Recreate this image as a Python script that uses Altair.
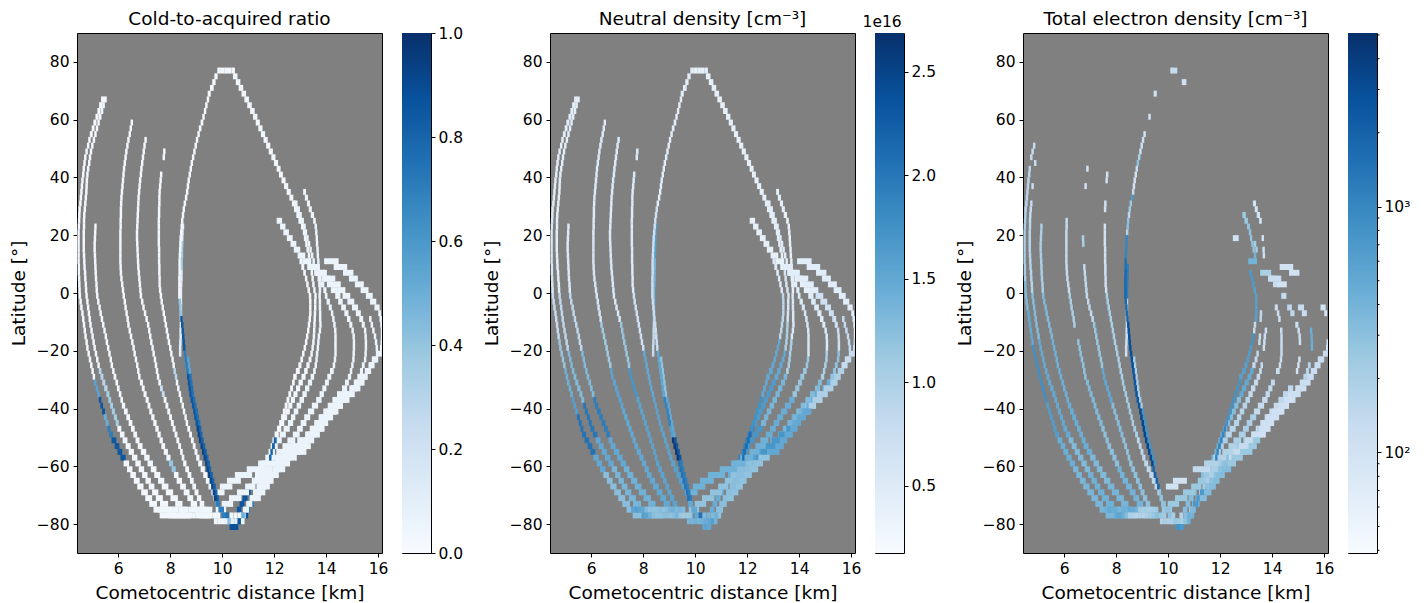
import altair as alt
import numpy as np
import pandas as pd

# ---- tracks: distance per row (km); rows go down 2 degrees at a time
A_R = [5.40,5.32,5.25,5.18,5.10,5.03,4.96,4.89,4.84,4.78,4.73,4.70,4.67,4.65,4.62,4.60,4.58,4.56,4.54,4.51,4.50,4.49,4.48,4.47,4.47,4.47,4.47,4.47,4.47,4.48,4.48,4.49,4.50,4.51,4.52,4.55,4.58,4.62,4.65,4.68,4.71,4.74,4.78,4.81,4.86,4.91,4.96,5.01,5.06,5.11,5.18,5.24,5.30,5.36,5.43,5.50,5.57,5.64,5.72,5.83,5.95,6.06,6.18,6.31,6.44,6.57,6.71,6.85,7.01,7.17,7.34,7.54,7.80]
B_R = [5.50,5.43,5.37,5.30,5.24,5.18,5.12,5.06,5.00,4.95,4.91,4.88,4.84,4.81,4.79,4.78,4.77,4.75,4.73,4.71,4.69,4.68,4.68,4.67,4.67,4.67,4.67,4.68,4.69,4.70,4.72,4.73,4.75,4.76,4.78,4.81,4.84,4.87,4.90,4.93,4.97,5.01,5.05,5.09,5.14,5.19,5.24,5.30,5.37,5.44,5.52,5.60,5.67,5.74,5.81,5.89,5.96,6.04,6.15,6.26,6.38,6.50,6.63,6.76,6.89,7.02,7.15,7.28,7.42,7.58,7.76,7.97,8.30]
C_R = [5.12,5.11,5.10,5.09,5.09,5.10,5.11,5.12,5.13,5.14,5.16,5.17,5.19,5.23,5.28,5.32,5.37,5.42,5.47,5.52,5.56,5.61,5.66,5.71,5.75,5.81,5.87,5.94,6.00,6.07,6.13,6.20,6.29,6.38,6.47,6.56,6.65,6.74,6.84,6.97,7.10,7.23,7.36,7.50,7.65,7.80,7.97,8.15,8.33,8.50,8.66]
D_R = [6.52,6.48,6.44,6.39,6.35,6.31,6.28,6.25,6.22,6.20,6.18,6.16,6.14,6.12,6.11,6.10,6.10,6.09,6.09,6.08,6.08,6.08,6.08,6.08,6.08,6.09,6.10,6.12,6.15,6.18,6.21,6.25,6.28,6.32,6.36,6.39,6.44,6.49,6.54,6.59,6.63,6.68,6.73,6.77,6.81,6.89,6.96,7.03,7.11,7.18,7.25,7.33,7.41,7.49,7.57,7.65,7.73,7.83,7.93,8.03,8.13,8.23,8.35,8.49,8.63,8.77,8.91,9.08,9.26]
E_R = [7.05,7.01,6.98,6.95,6.92,6.89,6.87,6.84,6.82,6.80,6.78,6.77,6.76,6.75,6.74,6.73,6.72,6.72,6.73,6.74,6.75,6.76,6.77,6.79,6.81,6.83,6.85,6.87,6.92,6.97,7.03,7.09,7.15,7.19,7.23,7.27,7.32,7.36,7.41,7.45,7.49,7.53,7.59,7.66,7.73,7.80,7.87,7.94,8.01,8.08,8.15,8.22,8.29,8.36,8.43,8.49,8.56,8.65,8.74,8.83,8.92,9.01,9.11,9.22,9.33,9.46]
F_R = [7.65,7.63,7.61,7.59,7.58,7.58,7.57,7.57,7.56,7.56,7.56,7.56,7.56,7.57,7.57,7.57,7.58,7.58,7.59,7.59,7.61,7.64,7.67,7.71,7.75,7.79,7.83,7.87,7.91,7.95,8.00,8.04,8.09,8.13,8.17,8.22,8.26,8.31,8.37,8.42,8.48,8.53,8.59,8.64,8.71,8.78,8.85,8.92,8.99,9.06,9.15,9.25,9.35,9.45,9.55,9.65,9.72,9.78,9.83,9.88]
F0_R = [7.77,7.75]
G_R = [9.76,9.68,9.60,9.50,9.45,9.39,9.34,9.28,9.22,9.15,9.09,9.03,8.98,8.93,8.88,8.83,8.79,8.75,8.71,8.68,8.65,8.61,8.56,8.52,8.49,8.46,8.44,8.42,8.40,8.39,8.38,8.37,8.36,8.36,8.36,8.35,8.35,8.35,8.35,8.37,8.39,8.41,8.43,8.46,8.48,8.50,8.52,8.54,8.57,8.60,8.63,8.66,8.69,8.72,8.75,8.78,8.83,8.88,8.93,8.97,9.02,9.06,9.10,9.15,9.21,9.27,9.33,9.39,9.44,9.50,9.56,9.62,9.68,9.74,9.82,9.96,10.09,10.24,10.45]
G2_R = [8.49,8.47,8.46,8.46,8.45,8.45,8.44,8.44,8.43,8.43,8.42,8.41,8.41,8.41,8.41,8.41,8.41,8.41,8.40,8.40,8.39,8.38,8.38]
G3_R = [8.69,8.72,8.75,8.78,8.81,8.84,8.87,8.92,8.97,9.02,9.06,9.11,9.15,9.19,9.24,9.30,9.36,9.42,9.48,9.53,9.59,9.65,9.71,9.77,9.83]
GR_R = [10.50,10.61,10.72,10.83,10.94,11.05,11.16,11.27,11.37,11.47,11.57,11.67,11.77,11.87,11.97,12.07,12.17,12.26,12.36,12.46,12.56,12.66,12.75,12.83,12.92,13.00,13.09,13.15,13.19,13.24,13.29,13.34,13.38,13.42,13.45,13.48,13.51,13.55,13.59,13.58,13.58,13.57,13.56,13.55,13.54,13.53,13.51,13.48,13.44,13.38,13.30,13.22,13.13,13.02,12.92,12.82,12.72,12.62,12.52,12.41,12.30,12.19,12.09,12.00,11.92,11.85,11.75,11.62,11.49,11.36,11.24,11.12,11.00,10.88,10.76,10.65]
H_R = [13.17,13.24,13.32,13.39,13.47,13.55,13.60,13.62,13.64,13.65,13.67,13.68,13.70,13.71,13.72,13.73,13.74,13.76,13.75,13.76,13.76,13.77,13.77,13.78,13.76,13.72,13.70,13.68,13.65,13.63,13.60,13.55,13.47,13.38,13.27,13.17,13.06,12.95,12.84,12.73,12.63,12.48,12.33,12.18,12.05,11.96,11.88,11.75,11.60,11.48,11.30,11.08,10.80,10.50,10.20,9.95]
I_R = [12.20,12.33,12.46,12.60,12.74,12.88,13.05,13.25,13.47,13.75,14.00,14.15,14.30,14.45,14.55,14.67,14.78,14.87,14.95,15.02,15.06,15.07,15.07,15.06,15.05,15.01,14.96,14.90,14.80,14.71,14.55,14.38,14.20,14.03,13.85,13.68,13.50,13.35,13.10,12.82,12.55,12.27,12.00,11.80,11.67,11.54,11.42,11.29,11.16,11.03,10.90]
J_R = [14.20,14.55,14.85,15.05,15.28,15.48,15.66,15.81,15.96,16.06,16.10,16.13,16.15,16.15,16.14,16.12,16.05,15.88,15.74,15.60,15.46,15.27,15.08,14.95,14.70,14.45,14.20,13.95,13.75,13.55,13.40,13.25,13.13,12.75,12.40,12.20,12.05,11.88,11.72,11.55,11.40,11.25,11.10,10.97,10.85,10.60,10.50]
K_R = [12.82,12.92,13.00,13.08,13.16,13.22,13.28,13.34,13.40,13.46,13.52,13.58,13.65,13.75,13.85,13.95,14.00,14.08,14.16,14.23,14.28,14.32,14.35,14.36,14.36,14.36,14.36,14.34,14.30,14.22,14.12,14.03,13.93,13.83,13.72,13.57,13.42,13.27,13.13,12.99,12.85,12.66,12.47,12.28,11.98,11.66,11.28,10.82,10.45,10.15,9.85]
L_R = [13.55,13.80,14.12,14.38,14.58,14.78,14.95,15.11,15.24,15.35,15.43,15.50,15.52,15.53,15.53,15.52,15.50,15.43,15.36,15.28,15.16,15.04,14.78,14.60,14.42,14.24,14.05,13.86,13.68,13.42,13.15,12.90,12.70,12.50,12.30,12.12,11.93,11.74,11.55,11.36,11.20,11.05,10.93,10.80]
M_R = [15.70,15.76,15.82,15.88,15.92,15.95,15.96,15.87,15.76,15.62,15.48,15.34,15.13,14.87,14.66,14.50,14.32,14.12,13.95,13.80,13.60,13.40,13.25,13.00,12.65,12.45,12.25,12.02,11.85,11.70,11.52,11.35]
N_R = [13.03,13.10,13.17,13.23,13.28,13.33,13.38,13.39,13.39,13.39,13.37,13.34,13.31,13.27,13.23,13.18,13.12,13.06,12.99,12.91,12.80,12.74,12.67,12.60,12.53,12.46,12.39,12.32,12.25,12.18,12.11,12.04,11.97,11.90,11.85]

# ---- value runs read along each track: (keep until latitude, value); None = no data
RATIO_FLAT = [(-90, 0.03)]
RATIO_BAND = [(-90, 0.06)]
RATIO_A = [(-29,0.03),(-35,0.55),(-41,0.85),(-46,0.5),(-49,0.7),(-57,0.85),(-90,0.03)]
RATIO_B = [(-25,0.03),(-33,0.3),(-45,0.35),(-90,0.03)]
RATIO_D = [(-58,0.03),(-62,0.4),(-90,0.03)]
RATIO_E = [(-32,0.03),(-35,0.25),(-90,0.03)]
RATIO_F = [(-25,0.03),(-29,0.3),(-90,0.03)]
RATIO_G = [(-2,0.03),(-8,0.4),(-20,0.85),(-28,0.7),(-46,0.85),(-72,0.92),(-77,0.7),(-80,0.5),(-90,0.88)]
RATIO_G2 = [(19,0.1),(9,0.35),(-90,0.1)]
RATIO_G3 = [(-28,0.55),(-46,0.75),(-90,0.8)]
RATIO_GR = [(-68,0.04),(-90,0.85)]
RATIO_J = [(-72,0.06),(-76,0.7),(-80,0.88),(-90,0.85)]
RATIO_N = [(-49,0.03),(-90,0.8)]

NEUT_A = [(30,.45),(0,.55),(-15,.8),(-25,1.15),(-35,1.4),(-41,1.6),(-55,2.05),(-62,1.5),(-90,1.25)]
NEUT_B = [(0,.45),(-20,.85),(-38,1.3),(-50,2.0),(-60,1.5),(-90,1.35)]
NEUT_C = [(0,.5),(-20,.85),(-36,1.3),(-50,1.95),(-60,1.5),(-90,1.4)]
NEUT_D = [(20,.5),(-10,.6),(-25,1.1),(-40,1.55),(-90,1.5)]
NEUT_E = [(20,.5),(-10,.55),(-25,1.15),(-35,1.7),(-90,1.55)]
NEUT_F = [(0,.5),(-20,.7),(-35,1.5),(-60,1.55),(-90,1.6)]
NEUT_G = [(30,.45),(8,.7),(-20,.75),(-35,1.5),(-45,1.9),(-50,1.6),(-58,2.6),(-72,2.05),(-90,1.5)]
NEUT_G2 = [(12,1.6),(-10,1.35),(-90,.8)]
NEUT_G3 = [(-35,1.2),(-50,1.5),(-58,2.3),(-90,1.95)]
NEUT_GR = [(10,.4),(-10,.6),(-20,1.0),(-30,1.5),(-45,1.65),(-58,1.9),(-90,1.45)]
NEUT_H = [(0,.4),(-15,.55),(-28,1.0),(-45,1.35),(-58,1.7),(-90,1.2)]
NEUT_I = [(0,.4),(-20,.5),(-30,1.0),(-42,1.3),(-55,1.4),(-90,1.25)]
NEUT_J = [(-15,.45),(-25,.8),(-40,.95),(-50,1.35),(-58,1.6),(-90,1.2)]
NEUT_K = [(0,.45),(-22,.55),(-36,1.15),(-50,1.45),(-90,1.4)]
NEUT_L = [(0,.45),(-20,.7),(-30,1.2),(-45,1.45),(-58,1.7),(-90,1.25)]
NEUT_M = [(-25,.8),(-40,1.0),(-55,1.5),(-90,1.2)]
NEUT_N = [(0,.5),(-15,.9),(-35,1.5),(-47,1.75),(-90,2.1)]

ELEC_A = [(52,None),(47,130),(44,None),(29,160),(5,200),(-5,350),(-18,500),(-38,850),(-50,650),(-60,450),(-90,380)]
ELEC_B = [(47,None),(45,120),(39,None),(37,120),(33,None),(25,140),(0,170),(-15,330),(-30,480),(-50,500),(-62,350),(-90,420)]
ELEC_C = [(25,None),(0,200),(-15,350),(-35,430),(-55,450),(-65,350),(-90,380)]
ELEC_D = [(27,None),(0,130),(-12,200),(-15,None),(-30,280),(-45,350),(-60,300),(-90,400)]
ELEC_E = [(44,None),(42,100),(38,None),(36,100),(21,None),(16,200),(11,None),(-10,140),(-25,260),(-37,520),(-50,320),(-60,280),(-90,300)]
ELEC_F = [(38,100),(33,None),(29,100),(24,None),(0,100),(-30,200),(-50,220),(-70,150),(-90,200)]
ELEC_NONE = [(-90,None)]
ELEC_G = [(70,None),(68,100),(62,None),(60,100),(56,None),(54,100),(48,110),(46,200),(44,300),(42,120),(36,100),(34,130),(32,700),(28,250),(26,150),(22,300),(20,180),(12,1000),(8,1500),(-10,1800),(-25,2800),(-40,2500),(-60,3500),(-68,2000),(-80,280),(-90,800)]
ELEC_G2 = [(11,None),(-2,1200),(-90,110)]
ELEC_G3 = [(-40,200),(-60,800),(-90,None)]
ELEC_GR = [(74,None),(72,100),(28,None),(25,250),(24,None),(15,280),(14,None),(12,400),(-6,None),(-10,150),(-14,None),(-17,120),(-20,None),(-26,140),(-36,500),(-50,320),(-60,400),(-90,320)]
ELEC_H = [(32,None),(24,100),(21,None),(19,100),(17,None),(12,110),(-12,None),(-20,110),(-24,None),(-36,130),(-50,170),(-60,200),(-90,250)]
ELEC_I = [(21,None),(19,100),(13,None),(11,400),(9,None),(7,200),(3,130),(1,None),(-2,130),(-4,None),(-8,150),(-10,None),(-17,110),(-22,None),(-28,100),(-32,None),(-38,150),(-50,130),(-60,220),(-90,200)]
ELEC_J = [(10,None),(6,100),(-3,None),(-7,100),(-16,None),(-19,110),(-30,120),(-34,None),(-38,110),(-46,105),(-52,160),(-56,140),(-66,280),(-72,300),(-90,400)]
ELEC_K = [(19,None),(14,220),(-3,None),(-9,110),(-11,None),(-27,120),(-29,None),(-36,140),(-42,130),(-52,200),(-60,180),(-62,140),(-64,None),(-68,100),(-90,None)]
ELEC_L = [(6,None),(4,120),(2,100),(-4,None),(-7,120),(-12,None),(-20,450),(-24,None),(-30,170),(-36,110),(-50,110),(-58,130),(-68,300),(-74,700),(-90,350)]
ELEC_M = [(-22,None),(-30,120),(-36,110),(-50,105),(-60,250),(-90,330)]
ELEC_N = [(9,None),(3,700),(-10,600),(-14,130),(-18,800),(-24,650),(-30,600),(-45,800),(-90,1000)]

TRACKS = [
    (67,A_R,RATIO_A,NEUT_A,ELEC_A),(67,B_R,RATIO_B,NEUT_B,ELEC_B),(23,C_R,RATIO_FLAT,NEUT_C,ELEC_C),
    (59,D_R,RATIO_D,NEUT_D,ELEC_D),(53,E_R,RATIO_E,NEUT_E,ELEC_E),(41,F_R,RATIO_F,NEUT_F,ELEC_F),
    (49,F0_R,RATIO_FLAT,NEUT_F,ELEC_NONE),(75,GR_R,RATIO_GR,NEUT_GR,ELEC_GR),(35,H_R,RATIO_BAND,NEUT_H,ELEC_H),
    (25,I_R,RATIO_BAND,NEUT_I,ELEC_I),(11,J_R,RATIO_J,NEUT_J,ELEC_J),(31,K_R,RATIO_BAND,NEUT_K,ELEC_K),
    (9,L_R,RATIO_BAND,NEUT_L,ELEC_L),(-9,M_R,RATIO_BAND,NEUT_M,ELEC_M),(11,N_R,RATIO_N,NEUT_N,ELEC_N),
    (23,G2_R,RATIO_G2,NEUT_G2,ELEC_G2),(-23,G3_R,RATIO_G3,NEUT_G3,ELEC_G3),(75,G_R,RATIO_G,NEUT_G,ELEC_G),
]

# ---- flat rows at one latitude: lat, distances, ratio, neutral, electrons
FLOORS = [
    (77,[9.88,10.02,10.15,10.28,10.42],[.03,.03,.03,.03,.03],[.45,.4,.4,.4,.45],[None,None,120,130,None]),
    (-75,[7.60,7.73,7.86,7.99,8.12,8.25,8.38,8.51,8.64,8.77,8.90,9.03,9.16,9.29,9.42,9.55],
         [.04]*16,[1.55,1.6,1.55,1.5,1.3,1.2,1.2,1.2,1.25,1.2,1.25,1.35,1.4,1.3,1.35,1.3],
         [420,500,450,450,380,430,420,480,460,400,230,210,220,200,210,230]),
    (-77,[8.00,8.13,8.26,8.39,8.52,8.65,8.78,8.91,9.04,9.17,9.30,9.43,9.56,9.69,9.82],
         [.03]*15,[1.6,1.55,1.4,1.25,1.2,1.2,1.25,1.25,1.2,1.25,1.35,1.15,1.1,1.1,1.15],
         [500,550,450,320,190,180,170,180,170,190,220,260,300,260,240]),
    (-77,[10.20,10.35,10.50,10.65,10.80],[.75,.04,.04,.04,.5],[2.05,1.3,1.35,1.3,1.4],[200,None,180,300,420]),
    (-79,[9.75,9.88,10.01,10.14,10.27,10.40,10.53,10.66,10.79],[.03,.03,.03,.06,.4,.1,.1,.85,.05],
         [1.35,1.35,1.4,1.35,1.4,1.45,1.5,1.6,1.4],[180,200,180,200,260,230,200,280,400]),
    (-81,[10.40,10.52],[.88,.88],[1.55,1.5],[800,700]),
]

LOG_MINOR_TICKS = [40,50,60,70,80,90,200,300,400,500,600,700,800,900,2000,3000,4000,5000]

CMAP = ["#f7fbff","#deebf7","#c6dbef","#9ecae1","#6baed6","#4292c6","#2171b5","#08519c","#08306b"]
GRAY = "#808080"
FONT = "DejaVu Sans"
TITLE_SIZE = 18.5
LABEL_SIZE = 15.5


def expand(lat, runs):
    for stop, v in runs:
        if lat >= stop:
            return v
    return runs[-1][1]


def cell_width(r, i):
    a, b = max(i - 1, 0), min(i + 1, len(r) - 1)
    span = abs(r[b] - r[a]) / max(b - a, 1)
    return max(0.095, 1.6 * span)


rows = []
for start, r, ra, ne, el in TRACKS:
    for i, rv in enumerate(r):
        lat = start - 2 * i
        w = cell_width(r, i)
        rows.append((rv - w / 2, rv + w / 2, lat - 1.03, lat + 1.03, expand(lat, ra), expand(lat, ne), expand(lat, el)))
for lat, r, ra, ne, el in FLOORS:
    for i, rv in enumerate(r):
        w = 0.14
        rows.append((rv - w / 2, rv + w / 2, lat - 1.03, lat + 1.03, ra[i], ne[i], el[i]))
df = pd.DataFrame(rows, columns=["r0", "r1", "y0", "y1", "ratio", "neut", "elec"])
df["elec"] = pd.to_numeric(df["elec"], errors="coerce")


def panel(field, title, domain, scale_type="linear"):
    data = df[df[field].notna()][["r0", "r1", "y0", "y1", field]]
    return (
        alt.Chart(data, title=alt.Title(title, fontSize=TITLE_SIZE, fontWeight="normal", font=FONT, offset=5))
        .mark_rect(strokeWidth=0, clip=True)
        .encode(
            x=alt.X("r0:Q", scale=alt.Scale(domain=[4.41, 16.15], nice=False, zero=False),
                    axis=alt.Axis(title="Cometocentric distance [km]", values=[6, 8, 10, 12, 14, 16], format="d",
                                  titlePadding=7)),
            x2="r1:Q",
            y=alt.Y("y0:Q", scale=alt.Scale(domain=[-90, 90], nice=False, zero=False),
                    axis=alt.Axis(title="Latitude [°]", values=[-80, -60, -40, -20, 0, 20, 40, 60, 80], format="d",
                                  titlePadding=8)),
            y2="y1:Q",
            color=alt.Color(f"{field}:Q", legend=None,
                            scale=alt.Scale(type=scale_type, domain=domain, range=CMAP, clamp=True)),
        )
        .properties(width=305, height=520, view=alt.ViewConfig(fill=GRAY, stroke="black", strokeWidth=1))
    )


GRADIENT = alt.LinearGradient(
    gradient="linear",
    stops=[alt.GradientStop(color=c, offset=i / 8) for i, c in enumerate(CMAP)],
    x1=0, x2=0, y1=1, y2=0,
)


def bar_layer(low, high, scale_type, axis):
    data = pd.DataFrame({"a": [low], "b": [high]})
    return alt.Chart(data).mark_rect(color=GRADIENT).encode(
        x=alt.value(0), x2=alt.value(29),
        y=alt.Y("a:Q", scale=alt.Scale(type=scale_type, domain=[low, high], nice=False, zero=False), axis=axis),
        y2="b:Q",
    )


def colorbar(low, high, values, fmt="", title=""):
    ax = alt.Axis(title=None, orient="right", values=values, format=fmt, labelPadding=3)
    ch = bar_layer(low, high, "linear", ax).properties(
        width=29, height=520, view=alt.ViewConfig(stroke="black", strokeWidth=1))
    if title:
        ch = ch.properties(title=alt.Title(title, fontSize=LABEL_SIZE, fontWeight="normal", font=FONT,
                                           anchor="end", offset=3, dx=-34))
    return ch


def log_colorbar(low, high):
    major = alt.Axis(title=None, orient="right", values=[100, 1000], labelPadding=3,
                     labelExpr="datum.value == 100 ? '10²' : '10³'")
    minor = alt.Chart(pd.DataFrame({"t": LOG_MINOR_TICKS})).mark_rule(color="black", strokeWidth=1).encode(
        x=alt.value(29), x2=alt.value(31.5),
        y=alt.Y("t:Q", scale=alt.Scale(type="log", domain=[low, high], nice=False, zero=False), axis=major),
    )
    return alt.layer(bar_layer(low, high, "log", major), minor).properties(
        width=29, height=520, view=alt.ViewConfig(stroke="black", strokeWidth=1))


def spacer():
    return alt.Chart(pd.DataFrame({"a": [0]})).mark_point(opacity=0).encode(x=alt.value(0)).properties(
        width=79, height=520, view=alt.ViewConfig(stroke=None))


ratio_domain = list(np.linspace(0, 1, 9))
neut_domain = list(np.linspace(0.176, 2.688, 9))
elec_domain = list(np.geomspace(39, 5090, 9))

chart = alt.hconcat(
    panel("ratio", "Cold-to-acquired ratio", ratio_domain),
    colorbar(0, 1, [0, .2, .4, .6, .8, 1], ".1f"),
    spacer(),
    panel("neut", "Neutral density [cm⁻³]", neut_domain),
    colorbar(0.176, 2.688, [.5, 1, 1.5, 2, 2.5], ".1f", "1e16"),
    spacer(),
    panel("elec", "Total electron density [cm⁻³]", elec_domain, "log"),
    log_colorbar(39, 5090),
    spacing=20, bounds="flush",
).resolve_scale(color="independent").properties(
    padding={"left": 0, "top": 1, "right": 5, "bottom": 5}, background="white"
).configure_axis(
    grid=False, domain=False, tickColor="black", tickSize=4, tickWidth=1,
    labelFont=FONT, titleFont=FONT, labelFontSize=LABEL_SIZE, titleFontSize=TITLE_SIZE,
    labelColor="black", titleColor="black", titleFontWeight="normal", labelPadding=4,
)

chart.save("out.html", embed_options={"renderer": "svg", "actions": False})
